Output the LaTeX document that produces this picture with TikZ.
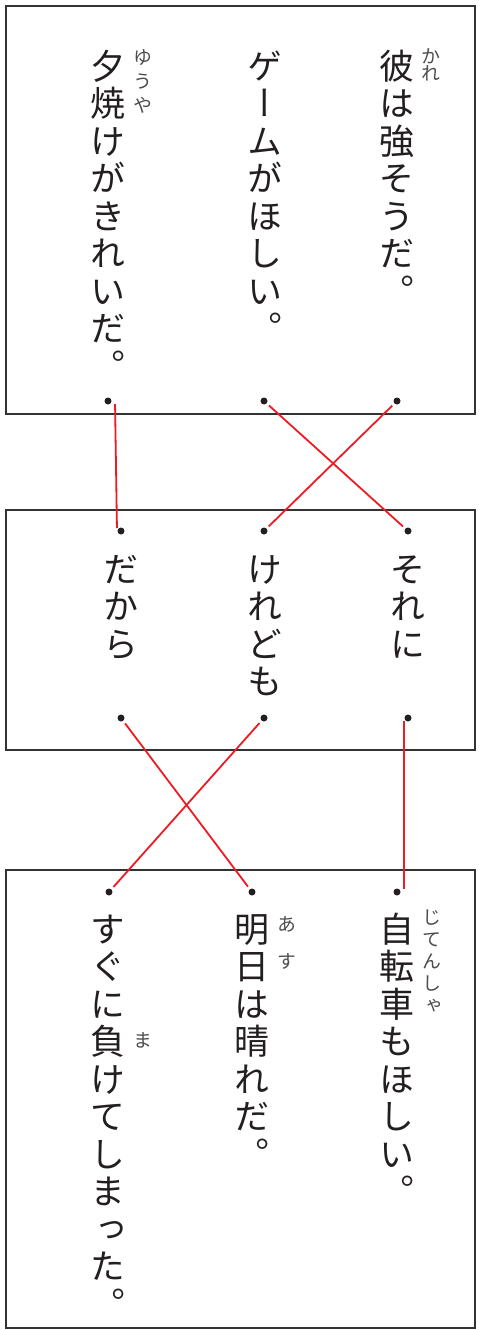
\documentclass[tikz,border=0pt]{standalone}
\usepackage{fontspec}
\usepackage{xcolor}
\usepackage{tikz}
\newfontfamily\jpfont[RawFeature=+vert]{Noto Sans CJK JP}
\definecolor{ink}{HTML}{231F20}
\definecolor{rubygray}{HTML}{4D4D4D}
\definecolor{boxgray}{HTML}{333333}
\definecolor{linkred}{HTML}{ED1C24}

% one vertical line of text: style, name, x, top, pitch, characters
\newcommand{\tateline}[6]{%
  \foreach \tchar [count=\tidx from 0] in {#6}
    \node[#1, name=#2-\tidx] at (#3, #4+\tidx*#5) {\tchar};}

\begin{document}
\begin{tikzpicture}[
  x=1pt, y=-1pt,
  panel/.style={rectangle, draw=boxgray, line width=2.2pt, inner sep=0pt, anchor=north west},
  kana/.style={font=\fontsize{35}{35}\selectfont\jpfont, text=ink, inner sep=0pt, text height=30.8pt, text depth=4.2pt, anchor=north},
  ruby/.style={font=\fontsize{19}{19}\selectfont\jpfont, text=rubygray, inner sep=0pt, text height=16.7pt, text depth=2.3pt, anchor=north},
  dot/.style={circle, fill=ink, inner sep=0pt, minimum size=7pt},
  link/.style={draw=linkred, line width=1.8pt, shorten <=3pt, shorten >=3pt}
]
  \useasboundingbox (0,0) rectangle (479,1330);

  % top box: sentences
  \node[panel, minimum width=469pt, minimum height=408pt] (box1) at (5,5) {};
  \tateline{kana}{kare}{397}{48}{37.5}{彼,は,強,そ,う,だ,。}
  \tateline{ruby}{kareR}{431}{47}{17}{か,れ}
  \tateline{kana}{game}{265}{48}{37.5}{ゲ,ー,ム,が,ほ,し,い,。}
  \tateline{kana}{yuuyake}{108}{48}{37.5}{夕,焼,け,が,き,れ,い,だ,。}
  \tateline{ruby}{yuuyakeR}{143}{48}{24}{ゆ,う,や}
  \node[dot] (a1) at (108,401) {};
  \node[dot] (a2) at (264,401) {};
  \node[dot] (a3) at (397,401) {};

  % middle box: conjunctions
  \node[panel, minimum width=469pt, minimum height=240pt] (box2) at (5,509) {};
  \tateline{kana}{soreni}{408}{551}{37.5}{そ,れ,に}
  \tateline{kana}{keredo}{265}{551}{37.5}{け,れ,ど,も}
  \tateline{kana}{dakara}{121}{551}{37.5}{だ,か,ら}
  \node[dot] (b1) at (121,531) {};
  \node[dot] (b2) at (264,531) {};
  \node[dot] (b3) at (408,531) {};
  \node[dot] (c1) at (121,718) {};
  \node[dot] (c2) at (264,718) {};
  \node[dot] (c3) at (408,718) {};

  % bottom box: sentences
  \node[panel, minimum width=469pt, minimum height=458pt] (box3) at (5,869) {};
  \tateline{kana}{jitensha}{397}{911}{37.5}{自,転,車,も,ほ,し,い,。}
  \tateline{ruby}{jitenshaR}{432}{908}{22}{じ,て,ん,し,ゃ}
  \tateline{kana}{ashita}{252}{911}{37.5}{明,日,は,晴,れ,だ,。}
  \tateline{ruby}{ashitaR}{287}{915}{37}{あ,す}
  \tateline{kana}{makete}{108}{911}{37.5}{す,ぐ,に,負,け,て,し,ま,っ,た,。}
  \tateline{ruby}{maR}{143}{1031}{37.5}{ま}
  \node[dot] (d1) at (109,892) {};
  \node[dot] (d2) at (252,892) {};
  \node[dot] (d3) at (397,892) {};

  % answers
  \draw[link] ([xshift=7pt]a1.center) -- ([xshift=-4pt]b1.center);
  \draw[link] (a2) -- (b3);
  \draw[link] (a3) -- (b2);
  \draw[link] (c1) -- (d2);
  \draw[link] (c2) -- (d1);
  \draw[link] ([xshift=-4pt]c3.center) -- ([xshift=7pt]d3.center);
\end{tikzpicture}
\end{document}
